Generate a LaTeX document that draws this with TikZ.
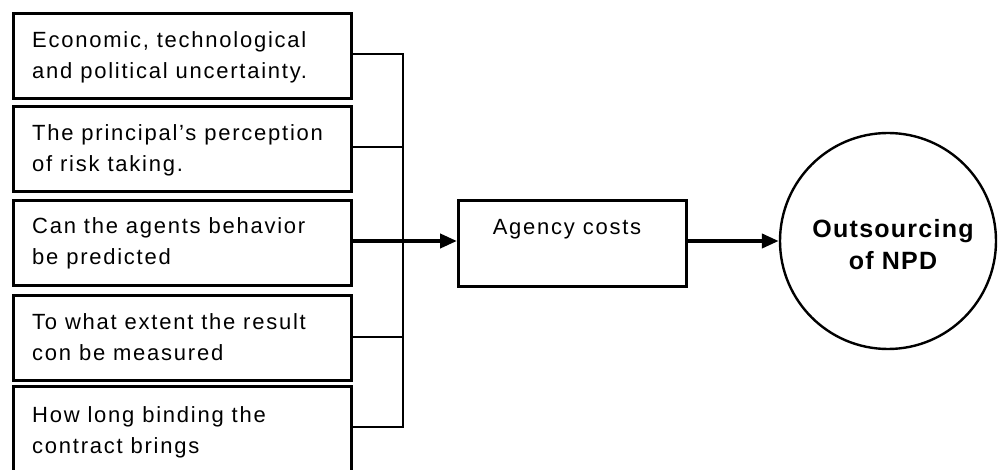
\documentclass[tikz,border=0pt]{standalone}
\usepackage{fontspec}
\setmainfont{Liberation Sans}[LetterSpace=8]
\usetikzlibrary{arrows.meta,calc}
\tikzset{
  box/.style={draw=black, line width=2.8pt, minimum width=338pt, minimum height=85pt, inner sep=0pt, anchor=north west},
  btxt/.style={anchor=north west, inner sep=0pt, align=left, font=\fontsize{22pt}{31pt}\selectfont},
  conn/.style={draw=black, line width=2.2pt},
  mainconn/.style={draw=black, line width=4pt},
  arr/.style={draw=black, line width=4pt, -{Triangle[length=17pt,width=14pt]}},
}
\begin{document}
\begin{tikzpicture}[x=1pt,y=-1pt]
\useasboundingbox (0,0) rectangle (999,470);
\begin{scope}
\clip (0,0) rectangle (999,470);
\node[box] (b1) at (12,12) {};
\node[box] (b2) at (12,105) {};
\node[box] (b3) at (12,199) {};
\node[box] (b4) at (12,294) {};
\node[box, minimum height=95pt] (b5) at (12,385) {};
\end{scope}
\node[btxt] (t1) at (32,31) {Economic, technological\\and political uncertainty.};
\node[btxt] (t2) at (32,124) {The principal's perception\\of risk taking.};
\node[btxt] (t3) at (32,217) {Can the agents behavior\\be predicted};
\node[btxt] (t4) at (32,313) {To what extent the result\\con be measured};
\node[btxt] (t5) at (32,406) {How long binding the\\contract brings};

\coordinate (j) at (403,241);
\node[draw=black, line width=2.6pt, minimum width=228pt, minimum height=86pt, inner sep=0pt, anchor=north west] (ag) at (457,199) {};
\node[anchor=base, inner sep=0pt, font=\fontsize{22pt}{31pt}\selectfont] (agt) at (567,235) {Agency costs};
\node[draw=black, line width=2.4pt, circle, minimum size=216pt, inner sep=0pt] (out) at (888,241) {};
\node[align=center, inner sep=0pt, font=\fontsize{25pt}{32pt}\selectfont\bfseries\addfontfeature{LetterSpace=5}] (outt) at (893,245) {Outsourcing\\of NPD};

\draw[conn] ($(b1.east)+(0,-2)$) -| (j);
\draw[conn] ($(b2.east)+(0,-2)$) -| (j);
\draw[conn] ($(b4.east)+(0,-1)$) -| (j);
\draw[conn] ($(b5.north east)+(0,42)$) -| (j);
\draw[mainconn] (b3.east |- j) -- (j);
\draw[arr] (j) -- (j -| ag.west);
\draw[arr] (ag.east |- j) -- (out.west);
\end{tikzpicture}
\end{document}
